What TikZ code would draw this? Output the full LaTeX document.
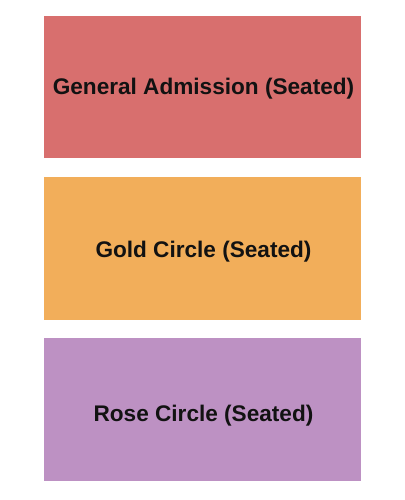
\documentclass[tikz,border=0pt]{standalone}
\usepackage{fontspec}
\setmainfont{Liberation Sans}
\definecolor{gared}{HTML}{D86F6E}
\definecolor{goldc}{HTML}{F2AE5A}
\definecolor{rosec}{HTML}{BD91C3}
\begin{document}
\begin{tikzpicture}[x=1pt,y=-1pt,
  section/.style={inner sep=0pt, font=\bfseries\fontsize{22.6}{26}\selectfont, text=black!93}]
\useasboundingbox[fill=white] (0,0) rectangle (404,500);
\fill[gared] (44,16) rectangle (361,158);
\fill[goldc] (44,177) rectangle (361,319.5);
\fill[rosec] (44,338) rectangle (361,481);
\node[section] (ga) at (203.5,89) {General Admission (Seated)};
\node[section] (gc) at (203.5,251.5) {Gold Circle (Seated)};
\node[section] (rc) at (203.5,415.5) {Rose Circle (Seated)};
\end{tikzpicture}
\end{document}
